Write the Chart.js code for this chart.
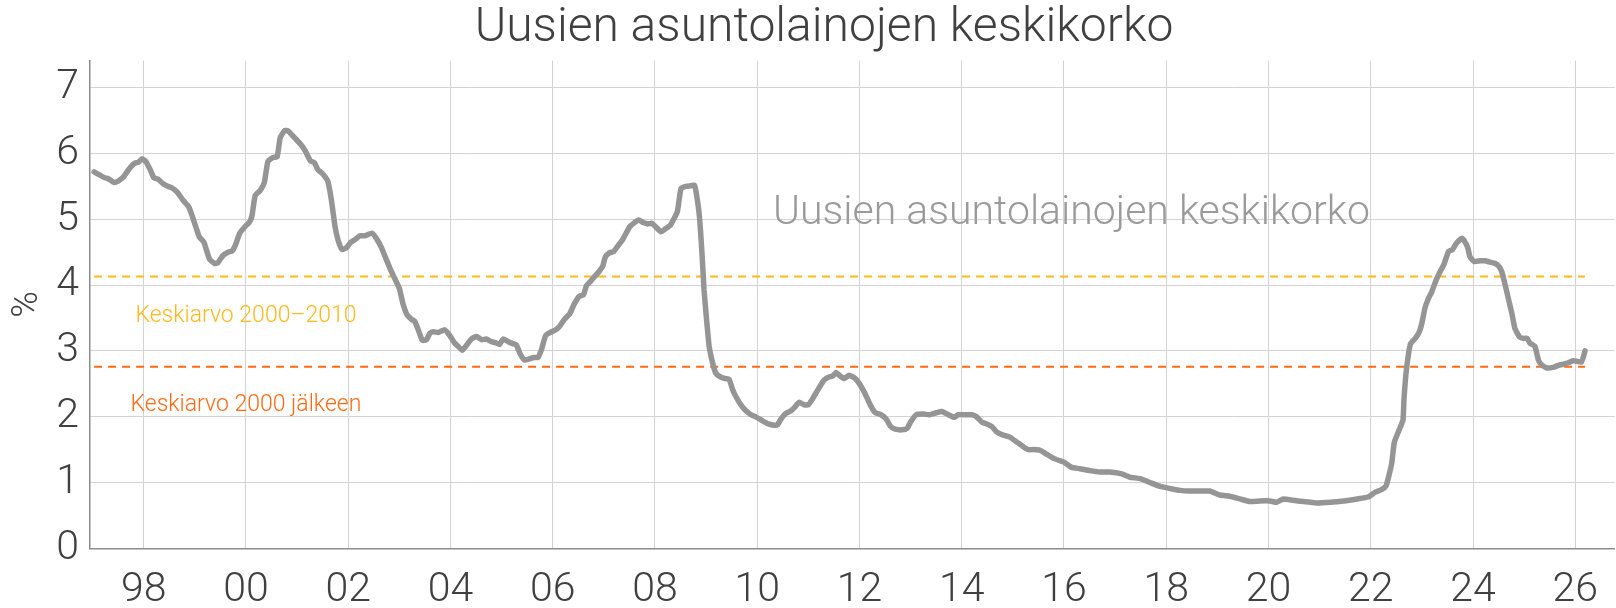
<!DOCTYPE html>
<html>
<head>
<meta charset="utf-8">
<script src="https://cdn.jsdelivr.net/npm/chart.js@4"></script>
<style>
  html, body { margin: 0; padding: 0; background: #fff; }
  #wrap { width: 1616px; height: 608px; }
</style>
</head>
<body>
<div id="wrap"><canvas id="mainChart" width="1616" height="608"></canvas></div>
<script>
// decimal years and the rate at each
const YEARS = [
  1997.03, 1997.24, 1997.30, 1997.42, 1997.50, 1997.60, 1997.73, 1997.82, 1997.90, 1997.97,
  1998.05, 1998.13, 1998.20, 1998.28, 1998.38, 1998.48, 1998.55, 1998.66, 1998.77, 1998.88, 1998.94,
  1999.03, 1999.09, 1999.18, 1999.22, 1999.29, 1999.39, 1999.45, 1999.55, 1999.65, 1999.73, 1999.79, 1999.88, 1999.97,
  2000.07, 2000.12, 2000.18, 2000.28, 2000.36, 2000.43, 2000.53, 2000.61, 2000.67, 2000.76, 2000.83, 2000.95,
  2001.07, 2001.16, 2001.26, 2001.34, 2001.41, 2001.49, 2001.60, 2001.67, 2001.74, 2001.80, 2001.88, 2001.97,
  2002.05, 2002.13, 2002.23, 2002.33, 2002.46, 2002.55, 2002.65, 2002.75, 2002.83, 2002.91,
  2003.00, 2003.07, 2003.15, 2003.24, 2003.30, 2003.37, 2003.45, 2003.53, 2003.60, 2003.67, 2003.76, 2003.89, 2003.99,
  2004.08, 2004.15, 2004.23, 2004.31, 2004.41, 2004.51, 2004.61, 2004.70, 2004.80, 2004.90, 2004.96,
  2005.03, 2005.13, 2005.22, 2005.29, 2005.36, 2005.45, 2005.55, 2005.63, 2005.71, 2005.78, 2005.86, 2005.95,
  2006.06, 2006.14, 2006.23, 2006.33, 2006.42, 2006.52, 2006.60, 2006.66, 2006.73, 2006.81, 2006.91, 2006.98,
  2007.03, 2007.11, 2007.19, 2007.27, 2007.36, 2007.43, 2007.51, 2007.60, 2007.68, 2007.77, 2007.86, 2007.94,
  2008.02, 2008.12, 2008.21, 2008.29, 2008.38, 2008.44, 2008.51, 2008.61, 2008.70, 2008.77, 2008.81, 2008.87, 2008.92, 2008.96,
  2009.01, 2009.06, 2009.13, 2009.19, 2009.29, 2009.37, 2009.45, 2009.52, 2009.58, 2009.68, 2009.78, 2009.88, 2009.99,
  2010.10, 2010.22, 2010.33, 2010.40, 2010.46, 2010.56, 2010.66, 2010.74, 2010.82, 2010.92,
  2011.00, 2011.08, 2011.18, 2011.30, 2011.39, 2011.48, 2011.54, 2011.62, 2011.70, 2011.80, 2011.92,
  2012.00, 2012.11, 2012.21, 2012.31, 2012.42, 2012.52, 2012.61, 2012.70, 2012.83, 2012.93,
  2013.00, 2013.11, 2013.25, 2013.37, 2013.50, 2013.61, 2013.74, 2013.85, 2013.93,
  2014.07, 2014.20, 2014.29, 2014.39, 2014.49, 2014.59, 2014.68, 2014.81, 2014.94,
  2015.07, 2015.21, 2015.30, 2015.41, 2015.53, 2015.66, 2015.79, 2015.92,
  2016.00, 2016.15, 2016.31, 2016.51, 2016.70, 2016.90, 2017.13, 2017.29, 2017.49, 2017.68, 2017.88,
  2018.07, 2018.27, 2018.46, 2018.66, 2018.85, 2019.05, 2019.24, 2019.44, 2019.64, 2019.83,
  2020.03, 2020.16, 2020.29, 2020.48, 2020.68, 2020.94, 2021.21, 2021.47, 2021.73, 2021.95,
  2022.08, 2022.21, 2022.30, 2022.36, 2022.41, 2022.46, 2022.54, 2022.63, 2022.65, 2022.69, 2022.74, 2022.78, 2022.87, 2022.95,
  2023.00, 2023.06, 2023.13, 2023.19, 2023.26, 2023.34, 2023.43, 2023.52, 2023.60, 2023.68, 2023.78, 2023.84, 2023.90, 2023.94,
  2024.02, 2024.14, 2024.23, 2024.33, 2024.43, 2024.50, 2024.56, 2024.63, 2024.69, 2024.76, 2024.82, 2024.91, 2024.98,
  2025.06, 2025.11, 2025.21, 2025.28, 2025.34, 2025.45, 2025.57, 2025.67, 2025.77, 2025.86, 2025.96,
  2026.04, 2026.12, 2026.16, 2026.19
];
const RATES = [
  5.72, 5.63, 5.62, 5.56, 5.58, 5.64, 5.78, 5.85, 5.87, 5.92,
  5.87, 5.75, 5.63, 5.61, 5.54, 5.50, 5.48, 5.41, 5.29, 5.19, 5.07,
  4.86, 4.73, 4.65, 4.55, 4.39, 4.33, 4.34, 4.45, 4.50, 4.52, 4.60, 4.79, 4.88,
  4.96, 5.06, 5.36, 5.44, 5.56, 5.88, 5.94, 5.95, 6.24, 6.35, 6.34, 6.24,
  6.14, 6.04, 5.89, 5.86, 5.75, 5.70, 5.58, 5.30, 4.90, 4.69, 4.54, 4.57,
  4.65, 4.69, 4.75, 4.75, 4.79, 4.71, 4.57, 4.38, 4.23, 4.10,
  3.95, 3.72, 3.55, 3.48, 3.45, 3.32, 3.16, 3.17, 3.27, 3.29, 3.28, 3.32, 3.23,
  3.12, 3.07, 3.01, 3.08, 3.18, 3.22, 3.17, 3.18, 3.14, 3.12, 3.10,
  3.18, 3.14, 3.11, 3.09, 2.96, 2.86, 2.88, 2.90, 2.90, 3.02, 3.23, 3.28,
  3.32, 3.38, 3.48, 3.56, 3.71, 3.83, 3.85, 3.99, 4.05, 4.12, 4.21, 4.29,
  4.43, 4.49, 4.51, 4.59, 4.68, 4.78, 4.89, 4.95, 4.99, 4.95, 4.93, 4.94,
  4.88, 4.81, 4.86, 4.90, 5.02, 5.12, 5.47, 5.50, 5.51, 5.52, 5.39, 5.04, 4.48, 3.93,
  3.47, 3.07, 2.81, 2.66, 2.60, 2.58, 2.57, 2.41, 2.31, 2.18, 2.09, 2.03, 1.99,
  1.94, 1.89, 1.87, 1.88, 1.96, 2.05, 2.09, 2.15, 2.22, 2.18,
  2.18, 2.27, 2.40, 2.55, 2.60, 2.62, 2.67, 2.62, 2.58, 2.63, 2.58,
  2.50, 2.35, 2.18, 2.06, 2.03, 1.97, 1.85, 1.81, 1.80, 1.82,
  1.92, 2.03, 2.04, 2.03, 2.06, 2.08, 2.03, 1.99, 2.03,
  2.03, 2.03, 2.00, 1.92, 1.89, 1.85, 1.77, 1.72, 1.69,
  1.62, 1.54, 1.50, 1.50, 1.49, 1.43, 1.37, 1.33,
  1.31, 1.23, 1.21, 1.18, 1.16, 1.16, 1.13, 1.08, 1.06, 1.00, 0.94,
  0.91, 0.88, 0.87, 0.87, 0.87, 0.81, 0.79, 0.75, 0.71, 0.72,
  0.72, 0.70, 0.75, 0.73, 0.71, 0.69, 0.70, 0.72, 0.75, 0.78,
  0.85, 0.89, 0.95, 1.12, 1.29, 1.61, 1.77, 1.95, 2.26, 2.66, 2.96, 3.11, 3.19, 3.29,
  3.42, 3.65, 3.80, 3.89, 4.04, 4.18, 4.31, 4.51, 4.54, 4.64, 4.71, 4.66, 4.56, 4.43,
  4.36, 4.37, 4.37, 4.35, 4.33, 4.29, 4.21, 4.00, 3.80, 3.57, 3.34, 3.21, 3.19,
  3.19, 3.12, 3.07, 2.86, 2.79, 2.74, 2.75, 2.78, 2.80, 2.82, 2.85,
  2.84, 2.83, 2.91, 3.00
];

const X_TICKS = [1998, 2000, 2002, 2004, 2006, 2008, 2010, 2012, 2014, 2016, 2018, 2020, 2022, 2024, 2026];
const Y_TICKS = [0, 1, 2, 3, 4, 5, 6, 7];

const TITLE = 'Uusien asuntolainojen keskikorko';
const SERIES_NAME = 'Uusien asuntolainojen keskikorko';
const AVG_NAMES = ['Keskiarvo 2000–2010', 'Keskiarvo 2000 jälkeen'];
const AVG_VALUES = [4.13, 2.76];
const AVG_COLORS = ['#ffb81c', '#ff6a13'];
const AVG_SPAN = [1997.03, 2026.19];

const FONT = 'Roboto, "Open Sans", sans-serif';
const TEXT = '#404040';
const LINE = '#959595';

// title and text labels; the in-plot ones are placed through the scales
const labelPlugin = {
    id: 'labels',
    afterDatasetsDraw(chart) {
        const { ctx, scales: { x, y } } = chart;
        ctx.save();
        ctx.textBaseline = 'middle';
        ctx.textAlign = 'center';
        ctx.fillStyle = TEXT;
        ctx.font = '300 48px ' + FONT;
        ctx.fillText(TITLE, 824, 29);

        ctx.fillStyle = '#9a9a9a';
        ctx.font = '300 41px ' + FONT;
        ctx.textAlign = 'left';
        ctx.fillText(SERIES_NAME, x.getPixelForValue(2010.31), y.getPixelForValue(5.08));

        ctx.font = '300 23px ' + FONT;
        ctx.textAlign = 'center';
        const labelY = [3.53, 2.17];
        AVG_NAMES.forEach((n, i) => {
            ctx.fillStyle = AVG_COLORS[i];
            ctx.fillText(n, x.getPixelForValue(2000.0), y.getPixelForValue(labelY[i]));
        });
        ctx.restore();
    }
};

const mainData = YEARS.map((yr, i) => ({ x: yr, y: RATES[i] }));
const avgSets = AVG_VALUES.map((v, i) => ({
    label: AVG_NAMES[i],
    data: AVG_SPAN.map(yr => ({ x: yr, y: v })),
    borderColor: AVG_COLORS[i],
    borderWidth: 2,
    borderDash: [8, 6],
    pointRadius: 0,
    order: 2
}));

const ctx = document.getElementById('mainChart').getContext('2d');
const chart = new Chart(ctx, {
    type: 'line',
    data: {
        datasets: [{
            label: SERIES_NAME,
            data: mainData,
            borderColor: LINE,
            borderWidth: 5.5,
            pointRadius: 0,
            tension: 0.15,
            borderJoinStyle: 'round',
            borderCapStyle: 'round',
            order: 1
        }, ...avgSets]
    },
    options: {
        responsive: false,
        animation: false,
        devicePixelRatio: 1,
        layout: { padding: { top: 60.7, left: 0, right: 0, bottom: 0 } },
        plugins: {
            legend: { display: false },
            tooltip: { enabled: false },
            title: { display: false }
        },
        scales: {
            x: {
                type: 'linear',
                min: 1996.95,
                max: 2026.77,
                afterBuildTicks: axis => { axis.ticks = X_TICKS.map(v => ({ value: v })); },
                afterFit: axis => { axis.height = 59.7; },
                ticks: {
                    callback: v => String(v % 100).padStart(2, '0'),
                    color: TEXT,
                    font: { family: FONT, size: 41, weight: '300', lineHeight: 1.2 },
                    padding: 18,
                    maxRotation: 0,
                    autoSkip: false
                },
                grid: { color: '#d3d3d3', lineWidth: 1, drawTicks: false },
                border: { color: '#8c8c8c', width: 1.5 }
            },
            y: {
                min: 0,
                max: 7.41,
                afterBuildTicks: axis => { axis.ticks = Y_TICKS.map(v => ({ value: v })); },
                afterFit: axis => { axis.width = 90; },
                ticks: {
                    color: TEXT,
                    font: { family: FONT, size: 41, weight: '300' },
                    padding: 11
                },
                title: {
                    display: true,
                    text: '%',
                    color: TEXT,
                    font: { family: FONT, size: 36, weight: '300', lineHeight: 1.2 },
                    padding: { top: 6, bottom: 0 }
                },
                grid: { color: '#d3d3d3', lineWidth: 1, drawTicks: false },
                border: { color: '#8c8c8c', width: 1.5 }
            }
        }
    },
    plugins: [labelPlugin]
});
</script>
</body>
</html>
